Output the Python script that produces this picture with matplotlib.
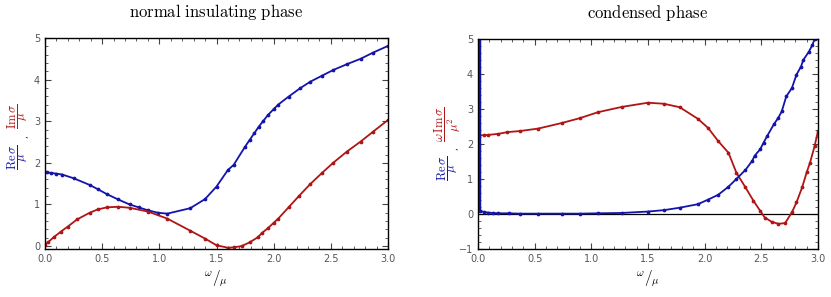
import matplotlib
matplotlib.use("Agg")
import matplotlib.pyplot as plt
from matplotlib.ticker import MultipleLocator

plt.rcParams['mathtext.fontset'] = 'cm'

BLUE = '#1414aa'
RED = '#b01414'

# Left panel: normal insulating phase
re_n_w = [0.0, 0.015, 0.05, 0.1, 0.15, 0.25, 0.39, 0.46, 0.54, 0.64, 0.74, 0.82, 0.9, 0.99, 1.07,
          1.27, 1.4, 1.5, 1.6, 1.65, 1.75, 1.79, 1.83, 1.87, 1.91, 1.95, 2.0, 2.04, 2.13, 2.23,
          2.32, 2.42, 2.52, 2.64, 2.76, 2.87, 3.0]
re_n_v = [1.78, 1.77, 1.76, 1.74, 1.72, 1.63, 1.47, 1.37, 1.25, 1.12, 1.0, 0.93, 0.86, 0.8, 0.78,
          0.91, 1.13, 1.43, 1.83, 1.95, 2.39, 2.55, 2.71, 2.87, 3.01, 3.15, 3.29, 3.4, 3.59, 3.79,
          3.95, 4.09, 4.23, 4.37, 4.5, 4.65, 4.81]
im_n_w = [0.0, 0.03, 0.075, 0.14, 0.2, 0.28, 0.39, 0.46, 0.54, 0.64, 0.74, 0.9, 1.07, 1.27, 1.4,
          1.5, 1.6, 1.65, 1.72, 1.79, 1.86, 1.9, 1.95, 2.0, 2.04, 2.13, 2.22, 2.32, 2.42, 2.52,
          2.64, 2.76, 2.87, 3.0]
im_n_v = [0.03, 0.1, 0.21, 0.35, 0.47, 0.64, 0.8, 0.88, 0.93, 0.945, 0.92, 0.83, 0.66, 0.37, 0.18,
          0.02, -0.04, -0.03, 0.0, 0.09, 0.21, 0.32, 0.43, 0.56, 0.66, 0.93, 1.2, 1.49, 1.75, 2.0,
          2.27, 2.51, 2.75, 3.03]

# Right panel: condensed phase
re_c_w = [0.008, 0.008, 0.018, 0.05, 0.09, 0.13, 0.18, 0.27, 0.37, 0.53, 0.74, 0.9, 1.06, 1.27, 1.5,
          1.64, 1.78, 1.94, 2.03, 2.12, 2.21, 2.28, 2.36, 2.42, 2.44, 2.49, 2.52, 2.55, 2.61,
          2.65, 2.68, 2.72, 2.77, 2.81, 2.85, 2.87, 2.92, 2.95, 2.97]
re_c_v = [5.2, 0.12, 0.09, 0.06, 0.04, 0.03, 0.02, 0.02, 0.01, 0.01, 0.01, 0.01, 0.02, 0.03, 0.07,
          0.11, 0.18, 0.28, 0.41, 0.55, 0.78, 1.0, 1.26, 1.52, 1.66, 1.85, 2.04, 2.22, 2.56,
          2.75, 2.93, 3.36, 3.6, 3.98, 4.21, 4.4, 4.64, 4.83, 4.99]
im_c_w = [0.01, 0.05, 0.09, 0.18, 0.26, 0.37, 0.53, 0.74, 0.9, 1.06, 1.27, 1.5, 1.64, 1.78, 1.94,
          2.03, 2.12, 2.21, 2.28, 2.36, 2.43, 2.49, 2.53, 2.59, 2.65, 2.71, 2.77, 2.81, 2.86,
          2.9, 2.93, 2.97, 3.0]
im_c_v = [2.25, 2.25, 2.26, 2.29, 2.34, 2.37, 2.44, 2.6, 2.74, 2.91, 3.06, 3.18, 3.15, 3.05, 2.72,
          2.46, 2.08, 1.75, 1.18, 0.76, 0.38, 0.09, -0.1, -0.22, -0.28, -0.26, 0.05, 0.33, 0.76,
          1.19, 1.47, 1.94, 2.37]

W, H = 831, 297
fig = plt.figure(figsize=(W / 100, H / 100), dpi=100)

ax1 = fig.add_axes([45 / W, 1 - 249 / H, (388 - 45) / W, (249 - 38) / H])
ax2 = fig.add_axes([478 / W, 1 - 249 / H, (818 - 478) / W, (249 - 39) / H])

def style(ax, ylim, title):
    ax.set_xlim(0, 3)
    ax.set_ylim(*ylim)
    ax.xaxis.set_major_locator(MultipleLocator(0.5))
    ax.xaxis.set_minor_locator(MultipleLocator(0.1))
    ax.yaxis.set_major_locator(MultipleLocator(1))
    ax.yaxis.set_minor_locator(MultipleLocator(0.2))
    ax.tick_params(which='both', direction='in', top=True, right=True,
                   labelsize=7, labelcolor='#555555', color='#444444')
    ax.tick_params(which='major', length=4, width=0.8)
    ax.tick_params(which='minor', length=2, width=0.6)
    ax.xaxis.set_major_formatter(matplotlib.ticker.FormatStrFormatter('%.1f'))
    for s in ax.spines.values():
        s.set_linewidth(1.0)
        s.set_color('black')
    ax.set_title(title, fontsize=12, pad=15)
    ax.set_xlabel(r'$^{\omega}/_{\mu}$', fontsize=11, labelpad=3)

style(ax1, (-0.07, 5), r'$\mathrm{normal\ insulating\ phase}$')
style(ax2, (-1, 5), r'$\mathrm{condensed\ phase}$')
ax2.yaxis.set_major_formatter(matplotlib.ticker.FuncFormatter(
    lambda v, p: ('\u2212%d' % -v) if v < 0 else '%d' % v))

ms = 1.7
lw = 1.3
ax1.plot(re_n_w, re_n_v, color=BLUE, lw=lw, marker='o', ms=ms)
ax1.plot(im_n_w, im_n_v, color=RED, lw=lw, marker='o', ms=ms)

ax2.axhline(0, color='black', lw=0.9)
ax2.plot(im_c_w, im_c_v, color=RED, lw=lw, marker='o', ms=ms)
ax2.plot(re_c_w[1:], re_c_v[1:], color=BLUE, lw=lw, marker='o', ms=ms)
ax2.plot(re_c_w[:2], re_c_v[:2], color=BLUE, lw=2.5)

# multicolor y labels
fs = 9
fig.text(18 / W, 1 - 157 / H, r'$\dfrac{\mathrm{Re}\,\sigma}{\mu}$', color=BLUE, rotation=90,
         ha='center', va='center', fontsize=fs)
fig.text(25 / W, 1 - 137 / H, ',', color='black', rotation=90, ha='center', va='center', fontsize=6)
fig.text(18 / W, 1 - 116 / H, r'$\dfrac{\mathrm{Im}\,\sigma}{\mu}$', color=RED, rotation=90,
         ha='center', va='center', fontsize=fs)

fig.text(448 / W, 1 - 168 / H, r'$\dfrac{\mathrm{Re}\,\sigma}{\mu}$', color=BLUE, rotation=90,
         ha='center', va='center', fontsize=fs)
fig.text(455 / W, 1 - 149 / H, ',', color='black', rotation=90, ha='center', va='center', fontsize=6)
fig.text(448 / W, 1 - 124 / H, r'$\dfrac{\omega\,\mathrm{Im}\,\sigma}{\mu^2}$', color=RED, rotation=90,
         ha='center', va='center', fontsize=fs)

fig.savefig('out.png', dpi=100)
